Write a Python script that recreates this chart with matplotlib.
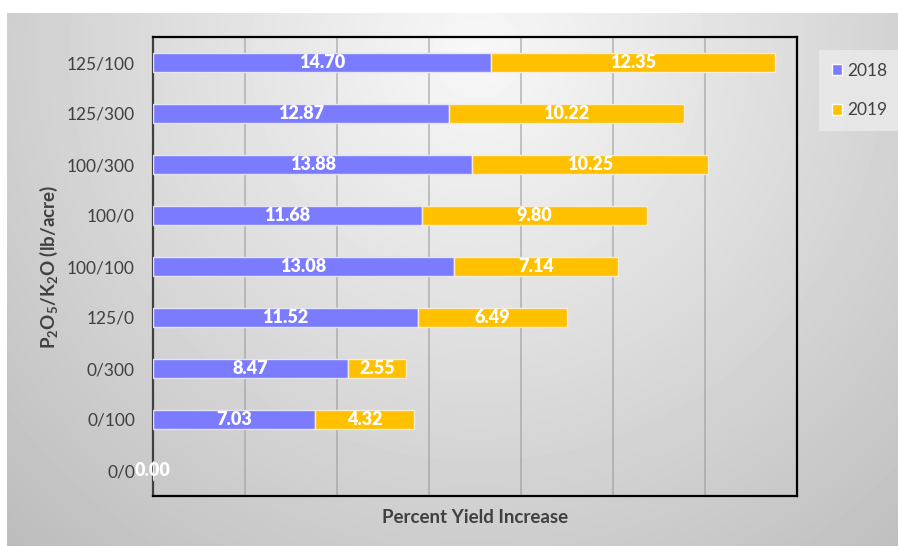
import matplotlib.pyplot as plt
import numpy as np

plt.rcParams['font.family'] = ['Lato', 'DejaVu Sans']
plt.rcParams['mathtext.fontset'] = 'custom'
plt.rcParams['mathtext.bf'] = 'Lato:bold'
plt.rcParams['mathtext.rm'] = 'Lato:bold'
plt.rcParams['mathtext.default'] = 'bf'

rates = ['125/100', '125/300', '100/300', '100/0', '100/100', '125/0', '0/300', '0/100', '0/0']
y2018 = [14.70, 12.87, 13.88, 11.68, 13.08, 11.52, 8.47, 7.03, 0.00]
y2019 = [12.35, 10.22, 10.25, 9.80, 7.14, 6.49, 2.55, 4.32, 0.00]

c2018 = '#7b7bff'
c2019 = '#ffc000'
txt = '#404040'

W, H = 898, 546
fig = plt.figure(figsize=(W / 100, H / 100), dpi=100)
fig.patch.set_facecolor('white')

# gradient panel behind the chart
bg = fig.add_axes([7 / W, 0, (W - 7) / W, (H - 13) / H])
yy, xx = np.mgrid[0:533, 0:891]
d = np.sqrt((xx - 470) ** 2 + (yy - 40) ** 2)
shade = np.clip(248 - d * 0.088, 180, 250) / 255
bg.imshow(shade, cmap='gray', vmin=0, vmax=1, aspect='auto', interpolation='bilinear')
bg.axis('off')

ax = fig.add_axes([153 / W, 50 / H, 644 / W, 459 / H])
ax.patch.set_alpha(0)

ypos = np.arange(len(rates))
h = 0.36
b1 = ax.barh(ypos, y2018, height=h, color=c2018, edgecolor='#e4e4f4', linewidth=1, label='2018', zorder=3)
b2 = ax.barh(ypos, y2019, left=y2018, height=h, color=c2019, edgecolor='#f4ecd8', linewidth=1, label='2019', zorder=3)

for i in range(len(rates)):
    ax.text(y2018[i] / 2, ypos[i], f'{y2018[i]:.2f}', ha='center', va='center', color='white',
            fontsize=13, fontweight='heavy', zorder=4, clip_on=False)
    if y2019[i] > 0:
        ax.text(y2018[i] + y2019[i] / 2, ypos[i], f'{y2019[i]:.2f}', ha='center', va='center',
                color='white', fontsize=13, fontweight='heavy', zorder=4)

ax.set_xlim(0, 28)
ax.set_ylim(len(rates) - 0.5, -0.5)
ax.set_xticks(np.arange(4, 28, 4))
ax.set_xticklabels([])
ax.tick_params(axis='x', length=0)
ax.tick_params(axis='y', length=0, labelsize=12.5, labelcolor=txt, pad=13)
ax.set_yticks(ypos)
ax.set_yticklabels(rates)
ax.grid(axis='x', color='#9a9a9a', alpha=0.6, lw=1.3, zorder=1)
for s in ax.spines.values():
    s.set_color('black')
    s.set_linewidth(1.6)
ax.spines['left'].set_color('#404040')

ax.set_xlabel('Percent Yield Increase', fontsize=13.5, fontweight='bold', color=txt, labelpad=6)
fig.text(49 / W, 1 - 267 / H, r'P$_2$O$_5$/K$_2$O (lb/acre)', rotation=90, ha='center', va='center',
         fontsize=13.5, fontweight='bold', color=txt)

leg = fig.legend(handles=[b1, b2], labels=['2018', '2019'], loc='upper left',
                 bbox_to_anchor=(819 / W, 1 - 50 / H), frameon=True, fontsize=12.5,
                 handlelength=0.6, handleheight=0.6, handletextpad=0.3, labelspacing=1.35,
                 borderpad=0.75, borderaxespad=0, fancybox=False, labelcolor=txt)
leg.get_frame().set_facecolor('#ebebeb')
leg.get_frame().set_edgecolor('none')
for p in leg.get_patches():
    p.set_edgecolor('#ffffff')

fig.savefig('out.png', dpi=100)
